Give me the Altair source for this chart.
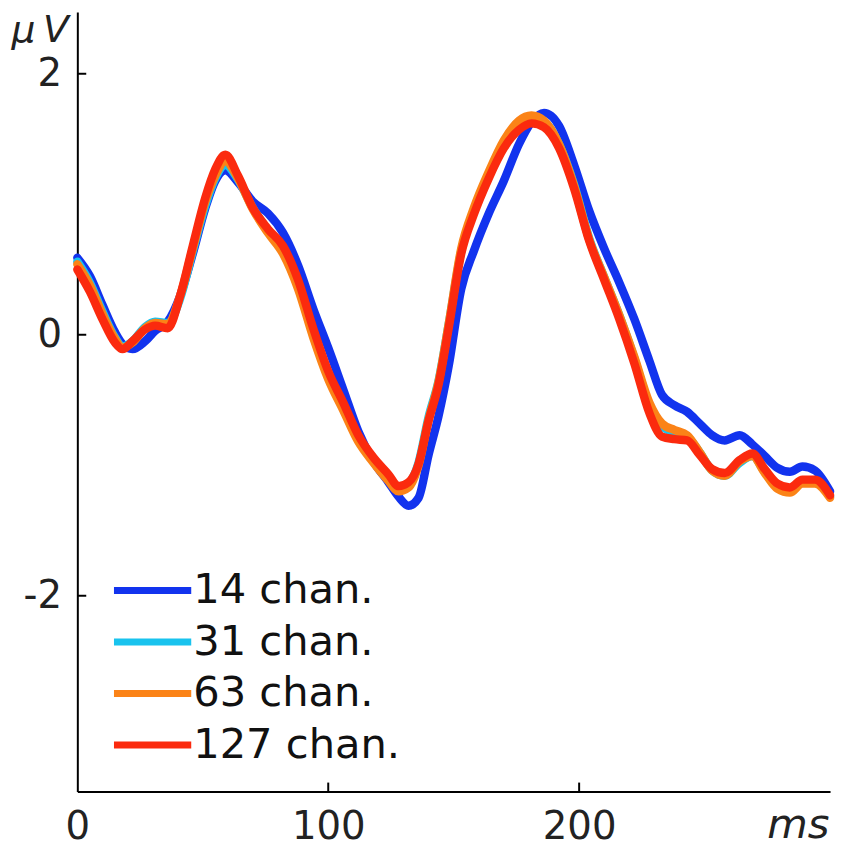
import altair as alt
import pandas as pd

# time points (ms)
times = [0, 5, 10, 15, 18, 22, 27, 31, 36, 41, 46, 51, 55, 59, 64, 70, 76, 82, 88, 94,
         100, 106, 112, 118, 124, 128, 132, 136, 140, 144, 148, 153, 158, 164, 170, 176,
         181, 186, 192, 198, 204, 210, 216, 222, 228, 233, 238, 243, 248, 253, 258, 264,
         269, 274, 279, 284, 289, 294, 300]

# amplitude (µV) per montage
ch14 = [0.59, 0.45, 0.23, 0.02, -0.07, -0.11, -0.05, 0.03, 0.10, 0.30, 0.62, 0.97, 1.18, 1.26,
        1.17, 1.02, 0.93, 0.78, 0.53, 0.20, -0.10, -0.42, -0.74, -0.97, -1.13, -1.24, -1.31,
        -1.25, -0.92, -0.62, -0.24, 0.35, 0.64, 0.93, 1.18, 1.46, 1.63, 1.70, 1.60, 1.30, 0.95,
        0.66, 0.40, 0.12, -0.20, -0.46, -0.54, -0.59, -0.68, -0.77, -0.81, -0.77, -0.84, -0.93,
        -1.02, -1.05, -1.01, -1.04, -1.20]
ch31 = [0.56, 0.40, 0.18, -0.02, -0.09, -0.05, 0.06, 0.10, 0.09, 0.28, 0.64, 0.99, 1.20, 1.30,
        1.19, 0.97, 0.80, 0.64, 0.38, 0.00, -0.31, -0.56, -0.80, -0.97, -1.09, -1.17, -1.14,
        -0.98, -0.63, -0.35, 0.08, 0.64, 0.95, 1.22, 1.46, 1.60, 1.65, 1.63, 1.46, 1.15, 0.74,
        0.44, 0.15, -0.18, -0.54, -0.70, -0.75, -0.78, -0.90, -1.04, -1.08, -0.98, -0.93, -1.05,
        -1.16, -1.19, -1.13, -1.13, -1.24]
ch63 = [0.54, 0.38, 0.16, -0.03, -0.10, -0.06, 0.05, 0.09, 0.08, 0.30, 0.66, 1.02, 1.22, 1.33,
        1.20, 0.96, 0.78, 0.62, 0.35, -0.02, -0.34, -0.58, -0.82, -0.98, -1.12, -1.20, -1.17,
        -1.00, -0.65, -0.36, 0.08, 0.66, 0.97, 1.25, 1.49, 1.64, 1.68, 1.64, 1.46, 1.14, 0.73,
        0.44, 0.15, -0.17, -0.52, -0.68, -0.73, -0.77, -0.90, -1.04, -1.08, -0.97, -0.93, -1.06,
        -1.18, -1.21, -1.14, -1.14, -1.25]
ch127 = [0.50, 0.33, 0.12, -0.06, -0.11, -0.05, 0.04, 0.07, 0.05, 0.30, 0.68, 1.05, 1.27, 1.38,
         1.22, 0.97, 0.81, 0.68, 0.42, 0.05, -0.28, -0.52, -0.77, -0.94, -1.07, -1.16, -1.13,
         -0.99, -0.66, -0.38, 0.05, 0.62, 0.92, 1.20, 1.43, 1.57, 1.62, 1.59, 1.43, 1.12, 0.72,
         0.42, 0.12, -0.22, -0.60, -0.78, -0.80, -0.81, -0.92, -1.03, -1.06, -0.96, -0.91, -1.03,
         -1.14, -1.17, -1.11, -1.11, -1.23]

series_names = ["14 chan.", "31 chan.", "63 chan.", "127 chan."]
series_colors = ["#1233ee", "#19c3ee", "#fb8317", "#fb2a0e"]
y_ticks = [-2, 0, 2]
x_ticks = [100, 200]
x_labels = [0, 100, 200]

rows = []
for name, vals in zip(series_names, [ch14, ch31, ch63, ch127]):
    for t, v in zip(times, vals):
        rows.append({"t": t, "v": v, "series": name})
df = pd.DataFrame(rows)

PLOT_W, PLOT_H = 760, 787
TICK_LEN = 9

x_scale = alt.Scale(domain=[0, 300], nice=False, zero=False)
y_scale = alt.Scale(domain=[-3.5, 2.473], nice=False, zero=False)
color_scale = alt.Scale(domain=series_names, range=series_colors)

x_axis = alt.Axis(values=x_labels, tickSize=0, labelFontSize=39, labelPadding=16,
                  labelColor="#222222", domainColor="#000000", domainWidth=2,
                  grid=False, title="ms", titleFontSize=42, titleFontStyle="italic",
                  titleFontWeight="normal", titleColor="#222222", titleAlign="left",
                  titleBaseline="alphabetic", titleX=696, titleY=46, labelFlush=False)
y_axis = alt.Axis(values=y_ticks, tickSize=0, labelFontSize=39, labelPadding=16,
                  labelExpr="'' + datum.value",
                  labelColor="#222222", domainColor="#000000", domainWidth=2,
                  grid=False, title="μ\u2009V", titleFontSize=38, titleFontStyle="italic",
                  titleFontWeight="normal", titleColor="#222222", titleAngle=0,
                  titleAlign="left", titleBaseline="alphabetic", titleX=-67, titleY=30,
                  labelFlush=False)

X = alt.X("t:Q", scale=x_scale, axis=x_axis)
Y = alt.Y("v:Q", scale=y_scale, axis=y_axis)

# inward-pointing tick marks (drawn first, beneath the traces)
ytick_df = pd.DataFrame({"v": y_ticks})
xtick_df = pd.DataFrame({"t": x_ticks})

ytick_layer = alt.Chart(ytick_df).mark_rule(strokeWidth=2, color="#000000").encode(
    y=Y, x=alt.value(0), x2=alt.value(TICK_LEN))
xtick_layer = alt.Chart(xtick_df).mark_rule(strokeWidth=2, color="#000000").encode(
    x=X, y=alt.value(PLOT_H), y2=alt.value(PLOT_H - TICK_LEN))

layers = []
for i, name in enumerate(series_names):
    layers.append(
        alt.Chart(df).transform_filter(alt.datum.series == name)
        .mark_line(strokeWidth=8.5, interpolate="monotone", strokeJoin="round", strokeCap="round")
        .encode(
            x=X, y=Y,
            color=alt.Color("series:N", scale=color_scale, legend=alt.Legend(title=None)),
        )
    )

chart = alt.layer(ytick_layer, xtick_layer, *layers).properties(
    width=PLOT_W, height=PLOT_H,
    autosize=alt.AutoSizeParams(type="none"),
    padding={"left": 70, "top": 0, "right": 5, "bottom": 55},
).configure_view(stroke=None).configure_axis(
    labelFont="DejaVu Sans", titleFont="DejaVu Sans"
).configure_legend(
    orient="none", legendX=55, legendY=563, padding=0,
    symbolType="M-3,0H3", symbolSize=676, symbolStrokeWidth=7,
    labelFontSize=42, labelFont="DejaVu Sans", labelColor="#111111",
    labelLimit=400, labelOffset=20, rowPadding=10, symbolOffset=0,
    direction="vertical"
)

chart.save("out.html", embed_options={"renderer": "svg", "actions": False})
